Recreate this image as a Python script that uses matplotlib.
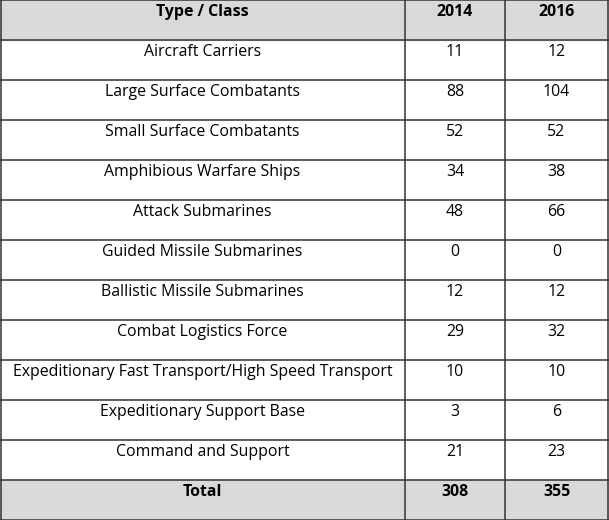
import matplotlib.pyplot as plt

categories = ["Aircraft Carriers", "Large Surface Combatants", "Small Surface Combatants",
              "Amphibious Warfare Ships", "Attack Submarines", "Guided Missile Submarines",
              "Ballistic Missile Submarines", "Combat Logistics Force",
              "Expeditionary Fast Transport/High Speed Transport", "Expeditionary Support Base",
              "Command and Support"]
v2014 = [11, 88, 52, 34, 48, 0, 12, 29, 10, 3, 21]
v2016 = [12, 104, 52, 38, 66, 0, 12, 32, 10, 6, 23]
headers = ["Type / Class", "2014", "2016"]

W, H = 609, 520
fig = plt.figure(figsize=(W / 100, H / 100), dpi=100)
ax = fig.add_axes([0, 0, 1, 1])
ax.set_xlim(0, W)
ax.set_ylim(H, 0)
ax.axis("off")

col_x = [0, 405, 505, 608]
row_h = 40
rows = [headers] + [[c, str(a), str(b)] for c, a, b in zip(categories, v2014, v2016)] \
       + [["Total", str(sum(v2014)), str(sum(v2016))]]
n = len(rows)
font = "Open Sans"

for i, row in enumerate(rows):
    y0 = i * row_h
    shaded = i == 0 or i == n - 1
    if shaded:
        ax.add_patch(plt.Rectangle((0, y0), W, row_h, color="#d9d9d9", zorder=0))
    for j, txt in enumerate(row):
        cx = (col_x[j] + col_x[j + 1]) / 2
        ax.text(cx, y0 + 12.5, txt, ha="center", va="center", fontsize=11.4,
                family=font, weight="bold" if shaded else "normal", color="#000000")

lw = 1.1
for i in range(n + 1):
    y = min(i * row_h, H - 0.5)
    ax.plot([0, W], [y, y], color="#333333", lw=lw)
for x in col_x:
    x = max(0.5, x)
    ax.plot([x, x], [0, H], color="#333333", lw=lw)

fig.savefig("out.png", dpi=100)
